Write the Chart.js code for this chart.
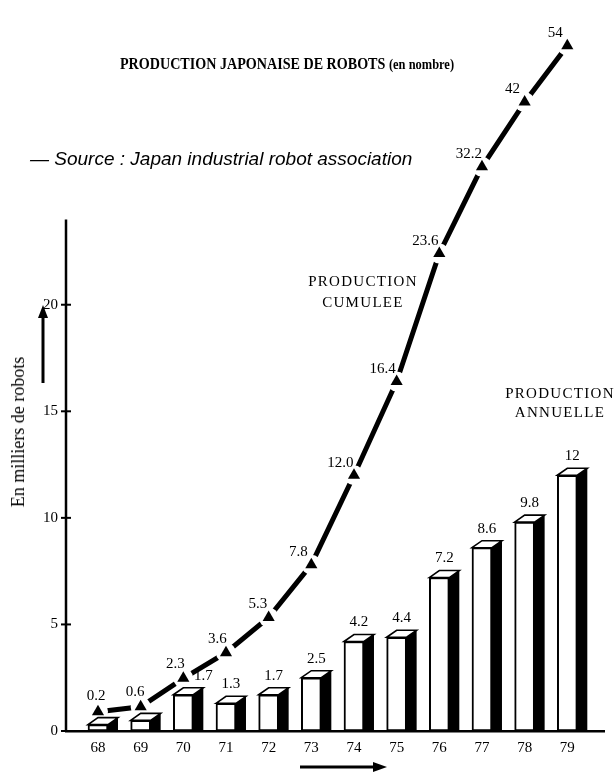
<!DOCTYPE html>
<html>
<head>
<meta charset="utf-8">
<title>Production japonaise de robots</title>
<script src="https://cdn.jsdelivr.net/npm/chart.js@4/dist/chart.umd.min.js"></script>
<style>
  html, body { margin: 0; padding: 0; background: #fff; overflow: hidden; }
  #wrap { position: relative; width: 614px; height: 773px; overflow: hidden; background: #fff; }
  #wrap canvas { position: absolute; left: 0; top: 0; }
  .txt { position: absolute; white-space: nowrap; color: #000; line-height: 1;
         font-family: "Liberation Serif", "Times New Roman", serif; pointer-events: none; }
  #title { left: 120px; top: 55px; font-size: 17px; font-weight: bold;
           transform: scaleX(0.83); transform-origin: 0 0; }
  #title span { font-size: 15px; }
  #source { left: 30px; top: 149px; font-family: "Liberation Sans", Arial, sans-serif;
            font-style: italic; font-size: 19px; }
  .note { font-size: 15px; letter-spacing: 1.3px; text-align: center; width: 200px; }
  #cumNote { left: 263px; top: 271px; line-height: 21px; }
  #annNote { left: 460px; top: 384px; line-height: 19px; }
  #yTitle { left: 18px; top: 432px; font-size: 18px;
            transform: translate(-50%, -50%) rotate(-90deg); }
</style>
</head>
<body>
<div id="wrap">
  <canvas id="chart" width="614" height="773"></canvas>
  <div class="txt" id="title">PRODUCTION JAPONAISE DE ROBOTS <span>(en nombre)</span></div>
  <div class="txt" id="source">— Source : Japan industrial robot association</div>
  <div class="txt note" id="cumNote">PRODUCTION<br>CUMULEE</div>
  <div class="txt note" id="annNote">PRODUCTION<br>ANNUELLE</div>
  <div class="txt" id="yTitle">En milliers de robots</div>
</div>
<script>
// Robot production in Japan, thousands of units
const years = ['68', '69', '70', '71', '72', '73', '74', '75', '76', '77', '78', '79'];
const annual = [0.3, 0.5, 1.7, 1.3, 1.7, 2.5, 4.2, 4.4, 7.2, 8.6, 9.8, 12];
const cumulativeLabels = ['0.2', '0.6', '2.3', '3.6', '5.3', '7.8', '12.0', '16.4', '23.6', '32.2', '42', '54'];
const cumulative = cumulativeLabels.map(Number);
const yTicks = [0, 5, 10, 15, 20];
const yAxisTop = 24;          // the drawn vertical axis stops here
const firstLabelledYear = '70';

const SERIF = '"Liberation Serif", "Times New Roman", serif';
const Y_MAX = 33.5;           // plot area runs higher than the axis so the curve fits

// The cumulative curve follows the left axis up to 18 thousand, is squeezed
// logarithmically above that, and sits a little higher near zero so its first
// markers clear the bars.
function squeeze(v) {
  if (v <= 18) return v + 0.8 * Math.exp(-v / 1.5);
  return 18 + 8.3 * Math.log(1 + (v - 18) / 8);
}
class SqueezedScale extends Chart.LinearScale {
  getPixelForValue(value) {
    return super.getPixelForValue(squeeze(value));
  }
}
SqueezedScale.id = 'squeezed';
SqueezedScale.defaults = Chart.LinearScale.defaults;
Chart.register(SqueezedScale);

const cumPoints = years.map((y, i) => ({ x: Number(y), y: cumulative[i] }));
const annPoints = years.map((y, i) => ({ x: Number(y), y: annual[i] }));

const DEPTH_X = 10, DEPTH_Y = 7;

// top and right faces of the boxes
const boxFaces = {
  id: 'boxFaces',
  afterDatasetDraw(chart, args) {
    if (chart.data.datasets[args.index].label !== 'annuelle') return;
    const ctx = chart.ctx;
    ctx.save();
    args.meta.data.forEach(el => {
      const { x, y, base, width } = el.getProps(['x', 'y', 'base', 'width'], true);
      const l = x - width / 2, r = x + width / 2;
      ctx.fillStyle = '#000';
      ctx.beginPath();
      ctx.moveTo(r - 1, y);
      ctx.lineTo(r + DEPTH_X, y - DEPTH_Y);
      ctx.lineTo(r + DEPTH_X, base);
      ctx.lineTo(r - 1, base);
      ctx.closePath();
      ctx.fill();
      ctx.fillStyle = '#fff';
      ctx.strokeStyle = '#000';
      ctx.lineWidth = 1.6;
      ctx.lineJoin = 'miter';
      ctx.beginPath();
      ctx.moveTo(l, y);
      ctx.lineTo(l + DEPTH_X, y - DEPTH_Y);
      ctx.lineTo(r + DEPTH_X, y - DEPTH_Y);
      ctx.lineTo(r, y);
      ctx.closePath();
      ctx.fill();
      ctx.stroke();
    });
    ctx.restore();
  }
};

// vertical axis line with ticks crossing it
const leftAxis = {
  id: 'leftAxis',
  afterDatasetsDraw(chart) {
    const s = chart.scales.y, ctx = chart.ctx, x = chart.chartArea.left;
    ctx.save();
    ctx.strokeStyle = '#000';
    ctx.lineWidth = 2.5;
    ctx.beginPath();
    ctx.moveTo(x, s.getPixelForValue(yAxisTop));
    ctx.lineTo(x, s.getPixelForValue(0) + 1);
    ctx.stroke();
    ctx.lineWidth = 2;
    yTicks.forEach(v => {
      const py = s.getPixelForValue(v);
      ctx.beginPath();
      ctx.moveTo(x - 5, py);
      ctx.lineTo(x + 5, py);
      ctx.stroke();
    });
    ctx.restore();
  }
};

// value labels for both series
const valueLabels = {
  id: 'valueLabels',
  afterDraw(chart) {
    const ctx = chart.ctx;
    const tri = chart.getDatasetMeta(0).data;
    const bars = chart.getDatasetMeta(1).data;
    ctx.save();
    ctx.fillStyle = '#000';
    ctx.font = '15px ' + SERIF;
    ctx.textAlign = 'center';
    ctx.textBaseline = 'middle';
    tri.forEach((p, i) => {
      const a = tri[Math.max(i - 1, 0)], b = tri[Math.min(i + 1, tri.length - 1)];
      const dx = b.x - a.x, dy = b.y - a.y;
      const s = Math.abs(dy) / Math.hypot(dx, dy);
      ctx.fillText(cumulativeLabels[i], p.x - 15 * s, p.y - 16 + 4 * s);
    });
    const start = years.indexOf(firstLabelledYear);
    bars.forEach((el, i) => {
      if (i < start) return;
      let lx = el.x + DEPTH_X / 2, ly = el.y - 19;
      tri.forEach(p => {
        if (Math.abs(lx - p.x) < 16 && Math.abs(ly - p.y) < 14) lx = p.x + 20;
      });
      ctx.fillText(String(annual[i]), lx, ly);
    });
    ctx.restore();
  }
};

// direction arrows beside the axis titles
const arrows = {
  id: 'arrows',
  afterDraw(chart) {
    const ctx = chart.ctx;
    ctx.save();
    ctx.fillStyle = '#000';
    ctx.strokeStyle = '#000';
    ctx.lineWidth = 3;
    ctx.beginPath(); ctx.moveTo(43, 383); ctx.lineTo(43, 316); ctx.stroke();
    ctx.beginPath(); ctx.moveTo(43, 305); ctx.lineTo(38, 318); ctx.lineTo(48, 318); ctx.closePath(); ctx.fill();
    ctx.beginPath(); ctx.moveTo(300, 767); ctx.lineTo(374, 767); ctx.stroke();
    ctx.beginPath(); ctx.moveTo(387, 767); ctx.lineTo(373, 762); ctx.lineTo(373, 772); ctx.closePath(); ctx.fill();
    ctx.restore();
  }
};

new Chart(document.getElementById('chart'), {
  type: 'bar',
  data: {
    datasets: [
      { type: 'line', label: 'cumulée', data: cumPoints, yAxisID: 'yc', showLine: false,
        pointStyle: 'triangle', pointRadius: 7, pointBackgroundColor: '#000', pointBorderWidth: 0, order: 0 },
      { type: 'bar', label: 'annuelle', data: annPoints, yAxisID: 'y', backgroundColor: '#fff',
        borderColor: '#000', borderWidth: 2, borderSkipped: false, barThickness: 20, order: 1 },
      { type: 'line', label: 'cumulée (halo)', data: cumPoints, yAxisID: 'yc', showLine: false,
        pointStyle: 'circle', pointRadius: 10, pointBackgroundColor: '#fff', pointBorderWidth: 0, order: 2 },
      { type: 'line', label: 'cumulée (trait)', data: cumPoints, yAxisID: 'yc', borderColor: '#000',
        borderWidth: 5, borderCapStyle: 'butt', pointRadius: 0, tension: 0, fill: false, order: 3 }
    ]
  },
  options: {
    responsive: false,
    animation: false,
    events: [],
    layout: { padding: { top: 731 - 21.5 * Y_MAX, right: 7, left: 0, bottom: 0 } },
    plugins: { legend: { display: false }, tooltip: { enabled: false }, title: { display: false } },
    scales: {
      x: {
        type: 'linear', min: 67.25, max: 79.86, offset: false,
        afterBuildTicks: s => { s.ticks = years.map(y => ({ value: Number(y) })); },
        afterFit: s => { s.height = 42; },
        ticks: { callback: v => String(v), font: { family: SERIF, size: 15 }, color: '#000',
                 padding: 8, maxRotation: 0, autoSkip: false },
        grid: { display: false, drawTicks: false, offset: false },
        border: { color: '#000', width: 2.5 }
      },
      y: {
        type: 'linear', position: 'left', min: 0, max: Y_MAX,
        afterBuildTicks: s => { s.ticks = yTicks.map(v => ({ value: v })); },
        afterFit: s => { s.width = 66; },
        ticks: { font: { family: SERIF, size: 15 }, color: '#000', padding: 8 },
        grid: { display: false, drawTicks: false },
        border: { display: false }
      },
      yc: { type: 'squeezed', position: 'left', min: 0, max: Y_MAX, display: false }
    }
  },
  plugins: [boxFaces, leftAxis, valueLabels, arrows]
});
</script>
</body>
</html>
